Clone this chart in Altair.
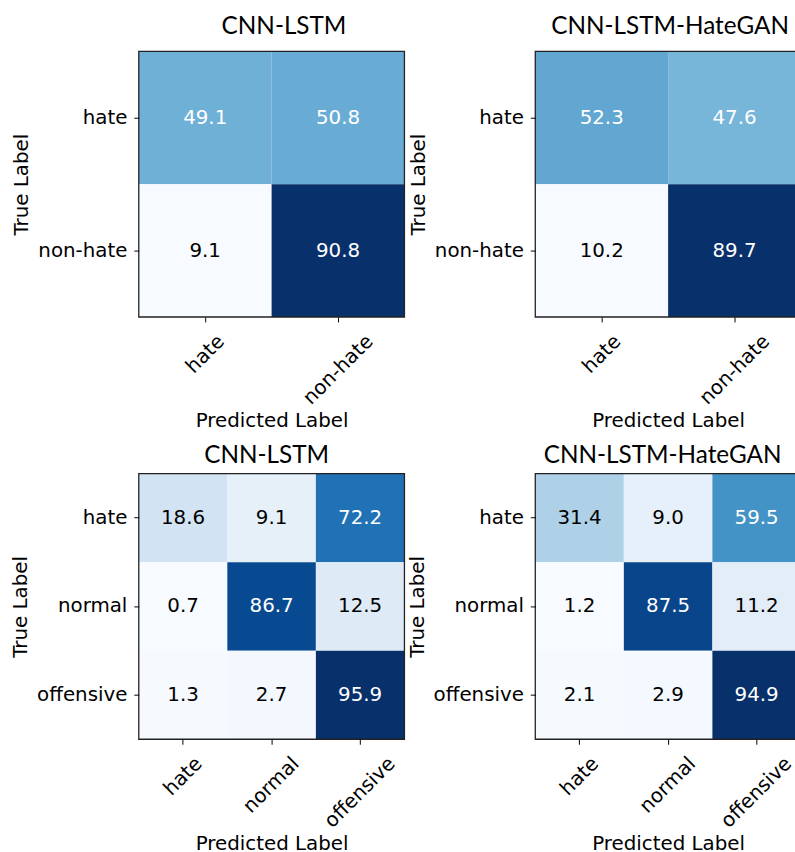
import altair as alt
import pandas as pd

LABELS_BIN = ["hate", "non-hate"]
LABELS_TRI = ["hate", "normal", "offensive"]
TITLES = ["CNN-LSTM", "CNN-LSTM-HateGAN", "CNN-LSTM", "CNN-LSTM-HateGAN"]

CNN_LSTM_BIN = [[49.1, 50.8], [9.1, 90.8]]
HATEGAN_BIN = [[52.3, 47.6], [10.2, 89.7]]
CNN_LSTM_TRI = [[18.6, 9.1, 72.2], [0.7, 86.7, 12.5], [1.3, 2.7, 95.9]]
HATEGAN_TRI = [[31.4, 9.0, 59.5], [1.2, 87.5, 11.2], [2.1, 2.9, 94.9]]

BLUES = ["#f7fbff", "#deebf7", "#c6dbef", "#9ecae1", "#6baed6",
         "#4292c6", "#2171b5", "#08519c", "#08306b"]

FONT = "DejaVu Sans"
FS = 20
W = 268
H = 268

OFFSET_EXPR = ("datum.value === 'hate' ? 9 : datum.value === 'normal' ? 17.5 : 25")


def panel(title, labels, matrix, title_dx, title_offset):
    n = len(labels)
    rows = [{"true": labels[i], "pred": labels[j], "v": matrix[i][j]}
            for i in range(n) for j in range(n)]
    df = pd.DataFrame(rows)
    vals = [r["v"] for r in rows]
    vmin, vmax = min(vals), max(vals)
    stops = [vmin + (vmax - vmin) * k / 8 for k in range(9)]
    thresh = vmax / 2

    x = alt.X("pred:N", sort=labels, title="Predicted Label",
              axis=alt.Axis(labelAngle=-45, labelAlign="right", labelBaseline="top",
                            labelOffset=alt.ExprRef(expr=OFFSET_EXPR),
                            labelPadding=9, titlePadding=3, labelOverlap=False))
    y = alt.Y("true:N", sort=labels, title="True Label",
              axis=alt.Axis(labelAngle=0, labelPadding=7, titlePadding=6))

    base = alt.Chart(df)
    rect = base.mark_rect().encode(
        x=x, y=y,
        color=alt.Color("v:Q", legend=None,
                        scale=alt.Scale(domain=stops, range=BLUES, interpolate="rgb",
                                        nice=False, zero=False)),
    )
    text = base.mark_text(font=FONT, fontSize=FS, baseline="middle", align="center").encode(
        x=x, y=y,
        text=alt.Text("v:Q", format=".1f"),
        color=alt.condition(f"datum.v > {thresh}", alt.value("white"), alt.value("black")),
    )
    frame = alt.Chart(pd.DataFrame({"k": [0]})).mark_rect(
        fillOpacity=0, stroke="#222222", strokeWidth=1.3
    ).encode(x=alt.value(0), x2=alt.value(W), y=alt.value(0), y2=alt.value(H))

    return alt.layer(rect, text, frame).properties(
        width=W, height=H,
        title=alt.TitleParams(title, font="Lato", fontSize=24.5, fontWeight="normal",
                              color="black", anchor="middle", frame="group",
                              baseline="alphabetic", offset=title_offset, dx=title_dx),
    )


p1 = panel(TITLES[0], LABELS_BIN, CNN_LSTM_BIN, 12.5, -8)
p2 = panel(TITLES[1], LABELS_BIN, HATEGAN_BIN, 2, -8)
p3 = panel(TITLES[2], LABELS_TRI, CNN_LSTM_TRI, -5, -14)
p4 = panel(TITLES[3], LABELS_TRI, HATEGAN_TRI, -5.5, -14)

chart = alt.concat(p1, p2, p3, p4, columns=2,
                   spacing=alt.RowColnumber(row=11, column=1)).resolve_scale(
    color="independent"
).properties(
    padding={"left": 10, "top": 10, "right": -7, "bottom": 0}
).configure_view(strokeWidth=0).configure_axis(
    labelFont=FONT, titleFont=FONT, labelFontSize=FS, titleFontSize=FS,
    labelColor="black", titleColor="black", titleFontWeight="normal",
    tickColor="black", tickSize=5, tickWidth=1, domain=False, grid=False,
)

chart.save("out.html", embed_options={"renderer": "svg", "actions": False})
